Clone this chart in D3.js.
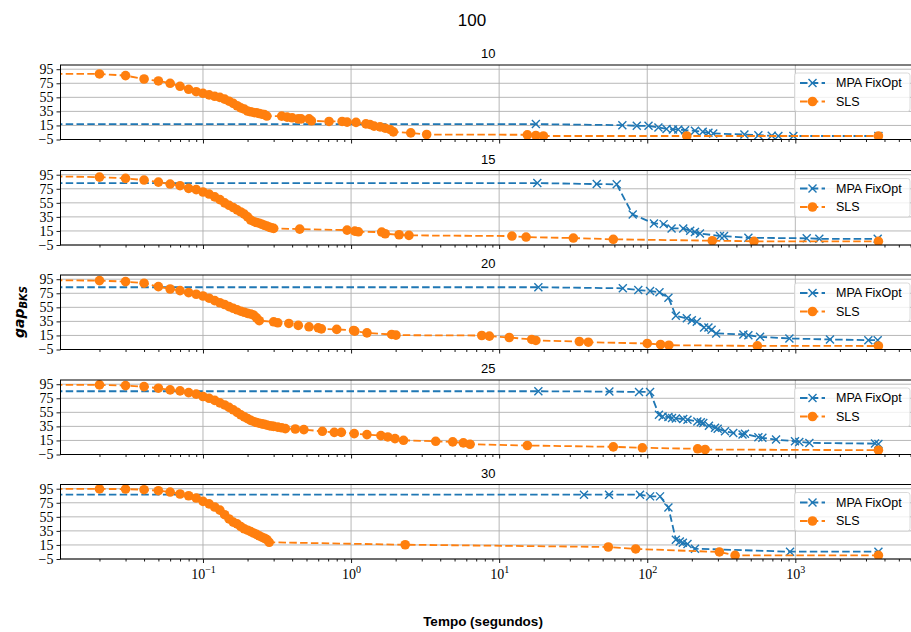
<!DOCTYPE html>
<html>
<head>
<meta charset="utf-8">
<script src="https://cdn.jsdelivr.net/npm/d3@7"></script>
<style>
    body { margin: 0; background: #fff; }
    svg { display: block; }
    .tick line { stroke: #000; stroke-width: 0.9; }
    .domain { display: none; }
</style>
</head>
<body>
<svg id="chart"></svg>
<script>
// ---- data (time in seconds, gap to BKS in %) ----
const figTitle = "100";
const panelNames = ["10", "15", "20", "25", "30"];
const seriesNames = ["MPA FixOpt", "SLS"];
const yTicks = [-5, 15, 35, 55, 75, 95];
const xTicks = [0.1, 1, 10, 100, 1000];
const xTickExp = ["\u22121", "0", "1", "2", "3"];

const mpaTime10 = [0.01, 17.7, 67.9, 85, 102, 119, 135, 149, 162, 180, 210, 237, 259, 279, 453, 563, 693, 768, 970, 3640];
const mpaGap10 = [16.9, 16.9, 15.4, 14.4, 14.4, 12.1, 10.1, 9.3, 9.3, 8.3, 7.3, 5.9, 4.5, 3.6, 2.1, 1.1, 0.4, 0, 0, 0];
const slsTime10 = [0.01, 0.02, 0.03, 0.04, 0.05, 0.06, 0.07, 0.08, 0.09, 0.10, 0.11, 0.12, 0.13, 0.14, 0.15, 0.16, 0.17, 0.18,
    0.19, 0.20, 0.21, 0.22, 0.23, 0.24, 0.25, 0.26, 0.27, 0.34, 0.37, 0.40, 0.44, 0.46, 0.52, 0.54, 0.71, 0.87, 0.94, 1.08,
    1.26, 1.34, 1.43, 1.57, 1.70, 1.83, 1.93, 2.53, 3.24, 15.5, 17.7, 19.9, 185, 3640];
const slsGap10 = [88.3, 88.3, 85.9, 81.1, 78.3, 75, 70.7, 66.4, 63, 60.7, 58.5, 56.5, 55, 52.5, 49.5, 46.4, 43, 40,
    38.3, 35.5, 34.4, 33.5, 33, 32, 31, 30.5, 28.4, 28.3, 26.9, 25.9, 24.4, 24.4, 24.4, 21.6, 20.7, 20.7, 19.7, 19.3,
    17.3, 16.4, 14, 13, 11.1, 9.3, 5.9, 4.4, 2.1, 1.7, 0.7, 0, 0, 0];

const mpaTime15 = [0.01, 18.1, 45.6, 62.2, 79.8, 111, 129, 146, 175, 195, 210, 227, 310, 330, 482, 1194, 1452, 3600];
const mpaGap15 = [83.1, 83.1, 81.7, 81.3, 38.4, 25.7, 24.7, 18.6, 18.6, 15.2, 13.4, 11.5, 7.7, 7.7, 5.3, 4.5, 3.8, 3.8];
const slsTime15 = [0.01, 0.02, 0.03, 0.04, 0.05, 0.06, 0.07, 0.08, 0.09, 0.10, 0.11, 0.12, 0.13, 0.14, 0.15, 0.16, 0.17,
    0.18, 0.19, 0.20, 0.21, 0.22, 0.23, 0.24, 0.25, 0.26, 0.27, 0.28, 0.29, 0.30, 0.45, 0.94, 1.06, 1.12, 1.61, 1.70,
    2.11, 2.46, 12.2, 15.2, 31.7, 59, 275, 526, 3640];
const slsGap15 = [92.6, 91.6, 89.8, 87.4, 84.5, 81.7, 79.4, 75.6, 73.8, 70.4, 67.5, 63.5, 59.5, 55, 51.5, 48.3, 45,
    42, 39, 35, 30.5, 28.5, 27, 26, 24.5, 23, 21.9, 20.5, 19.5, 18.6, 17.6, 16.2, 14.8, 13.8, 13.4, 11,
    9.6, 8.7, 7.7, 6.3, 4.9, 3.1, 1.1, 0.3, 0.3];

const mpaTime20 = [0.01, 18.4, 68.4, 87, 104.5, 121, 139, 156, 185, 200, 216, 242, 259, 272, 292, 446, 482, 578, 912, 1714, 3112, 3600];
const mpaGap20 = [83.6, 83.6, 82.1, 79.6, 78.3, 76.4, 68.7, 43, 39.3, 36.5, 34.4, 26.4, 26.4, 23, 17.9, 16.4, 15.4, 13, 10.7, 9.3, 8.3, 8.3];
const slsTime20 = [0.01, 0.02, 0.03, 0.04, 0.05, 0.06, 0.07, 0.08, 0.09, 0.10, 0.11, 0.12, 0.13, 0.14, 0.15, 0.16, 0.17,
    0.18, 0.19, 0.20, 0.21, 0.22, 0.23, 0.24, 0.30, 0.32, 0.38, 0.44, 0.52, 0.60, 0.63, 0.80, 1.04, 1.06, 1.28, 1.88,
    2.01, 7.63, 8.59, 11.7, 16.6, 17.7, 34.8, 40, 100, 123, 140, 554, 3640];
const slsGap20 = [93.6, 93, 91.6, 89.3, 84.4, 81.1, 78.7, 75.9, 73.6, 71.1, 68, 64.5, 61.5, 59, 56, 53.6, 51.5,
    49.5, 48, 46.4, 45.5, 44, 40, 36, 34.4, 33, 32.1, 29.3, 27.3, 25.9, 24.4, 23.6, 22.1, 21.1, 18.7, 16.4,
    15.4, 14.9, 14, 12.1, 9.3, 7.9, 6.4, 5.4, 3.6, 2.1, 1.1, 0.1, 0];

const mpaTime25 = [0.01, 18.4, 55.5, 88, 104.5, 120, 127, 139, 147, 156, 175, 187, 218, 230, 239, 261, 287, 299, 335,
    381, 440, 457, 563, 599, 741, 995, 1064, 1244, 3453, 3640];
const mpaGap25 = [85, 85, 84.5, 84, 84, 51.6, 49, 48.3, 47, 46.3, 45.5, 44.5, 42.1, 41, 39.8, 36, 33.2, 31.8, 28,
    25.7, 23.5, 24.5, 19.5, 18.7, 16.2, 13.8, 12.9, 11.5, 10.5, 10];
const slsTime25 = [0.01, 0.02, 0.03, 0.04, 0.05, 0.06, 0.07, 0.08, 0.09, 0.10, 0.11, 0.12, 0.13, 0.14, 0.15, 0.16, 0.17,
    0.18, 0.19, 0.20, 0.21, 0.22, 0.23, 0.24, 0.25, 0.26, 0.27, 0.28, 0.29, 0.30, 0.32, 0.34, 0.36, 0.42, 0.48, 0.64,
    0.77, 0.86, 1.05, 1.28, 1.59, 1.77, 1.98, 2.26, 3.73, 4.86, 5.73, 6.36, 15.5, 59, 92.7, 219, 246, 3640];
const slsGap25 = [94, 94, 93, 91.6, 89.3, 86.9, 85.5, 83.1, 80.9, 77.5, 75, 72, 68.5, 65.5, 62, 58.6, 55,
    51.5, 48.5, 46, 43.5, 42, 40.5, 39.5, 38.6, 38, 37, 36, 35.5, 35, 34, 33, 31.8, 31.3, 30.4, 28,
    26.5, 26.5, 24.7, 23.3, 21.9, 20, 17.6, 15.2, 13.8, 12.9, 11.5, 9.6, 7.8, 5.9, 4.5, 3.1, 2.1, 1.1];

const mpaTime30 = [0.01, 37.4, 55.2, 89.4, 104.5, 122, 139, 156, 166, 174, 187, 210, 921, 3640];
const mpaGap30 = [86.5, 86.5, 86.5, 86.5, 84.1, 84.1, 68.4, 22.5, 20, 18, 16.3, 9.7, 5.4, 5.4];
const slsTime30 = [0.01, 0.02, 0.03, 0.04, 0.05, 0.06, 0.07, 0.08, 0.09, 0.10, 0.11, 0.12, 0.13, 0.14, 0.15, 0.16, 0.17,
    0.18, 0.19, 0.20, 0.21, 0.22, 0.23, 0.24, 0.25, 0.26, 0.27, 0.28, 2.32, 54.6, 83.6, 307, 392, 3640];
const slsGap30 = [94.7, 94.7, 94.5, 93.6, 92.2, 90.3, 87.5, 85, 81.8, 77, 73.5, 69, 64.5, 58, 52, 47.5, 45,
    41, 38, 36, 34, 32, 30, 28, 26, 24.5, 22.6, 18.8, 15.3, 12.1, 9.3, 5, 0.1, 0.1];

const mpaTimes = [mpaTime10, mpaTime15, mpaTime20, mpaTime25, mpaTime30];
const mpaGaps = [mpaGap10, mpaGap15, mpaGap20, mpaGap25, mpaGap30];
const slsTimes = [slsTime10, slsTime15, slsTime20, slsTime25, slsTime30];
const slsGaps = [slsGap10, slsGap15, slsGap20, slsGap25, slsGap30];

const colors = ["#1f77b4", "#ff7f0e"];
const dash = "7.5,3.3";
const crossPath = "M-4,-4L4,4M-4,4L4,-4";

class PanelChart {
    constructor(_config, _data) {
        this.config = {
            parent: _config.parent,
            index: _config.index,
            top: _config.top,
            left: 60.5,
            right: 916,
            height: 74.5,
            showXLabels: _config.showXLabels
        };
        this.data = _data;
        this.initVis();
    }

    initVis() {
        let vis = this;
        vis.width = vis.config.right - vis.config.left;

        vis.xScale = d3.scaleLog()
            .domain([0.01091, 6530])
            .range([0, vis.width]);
        vis.yScale = d3.scaleLinear()
            .domain([-5, 101])
            .range([vis.config.height, 0]);

        vis.chart = vis.config.parent.append("g")
            .attr("transform", `translate(${vis.config.left},${vis.config.top})`);

        vis.clipId = "clip" + vis.config.index;
        vis.chart.append("clipPath").attr("id", vis.clipId)
            .append("rect")
            .attr("width", vis.width)
            .attr("height", vis.config.height);

        vis.renderVis();
    }

    renderVis() {
        let vis = this;
        const h = vis.config.height;

        // grid
        vis.chart.append("g").selectAll("line")
            .data(yTicks)
            .join("line")
            .attr("x1", 0).attr("x2", vis.width)
            .attr("y1", d => vis.yScale(d)).attr("y2", d => vis.yScale(d))
            .attr("stroke", "#b0b0b0").attr("stroke-width", 0.9);
        vis.chart.append("g").selectAll("line")
            .data(xTicks)
            .join("line")
            .attr("x1", d => vis.xScale(d)).attr("x2", d => vis.xScale(d))
            .attr("y1", 0).attr("y2", h)
            .attr("stroke", "#b0b0b0").attr("stroke-width", 0.9);

        // series
        const plot = vis.chart.append("g").attr("clip-path", `url(#${vis.clipId})`);
        const line = d3.line()
            .x(d => vis.xScale(d.t))
            .y(d => vis.yScale(d.g));

        vis.data.forEach((s, i) => {
            plot.append("path")
                .datum(s.points)
                .attr("d", line)
                .attr("fill", "none")
                .attr("stroke", colors[i])
                .attr("stroke-width", 1.8)
                .attr("stroke-dasharray", dash);
            if (i === 0) {
                plot.append("g").selectAll("path")
                    .data(s.points)
                    .join("path")
                    .attr("transform", d => `translate(${vis.xScale(d.t)},${vis.yScale(d.g)})`)
                    .attr("d", crossPath)
                    .attr("stroke", colors[i])
                    .attr("stroke-width", 1.4)
                    .attr("fill", "none");
            } else {
                plot.append("g").selectAll("circle")
                    .data(s.points)
                    .join("circle")
                    .attr("cx", d => vis.xScale(d.t))
                    .attr("cy", d => vis.yScale(d.g))
                    .attr("r", 4.8)
                    .attr("fill", colors[i]);
            }
        });

        // axes
        const minor = [];
        for (let e = -2; e <= 3; e++) {
            for (let k = 2; k <= 9; k++) {
                const v = k * Math.pow(10, e);
                if (v > 0.01091 && v < 6530) minor.push(v);
            }
        }
        vis.chart.append("g")
            .attr("transform", `translate(0,${h})`)
            .call(d3.axisBottom(vis.xScale).tickValues(minor).tickSize(2.5).tickFormat(""));
        const xAxisG = vis.chart.append("g")
            .attr("transform", `translate(0,${h})`)
            .call(d3.axisBottom(vis.xScale).tickValues(xTicks).tickSize(4).tickFormat(""));

        if (vis.config.showXLabels) {
            xAxisG.selectAll(".tick").each(function (d, i) {
                const t = d3.select(this).append("text")
                    .attr("y", 20)
                    .attr("fill", "#000")
                    .attr("text-anchor", "middle")
                    .style("font-family", "'Liberation Serif', serif")
                    .style("font-size", "14px");
                t.append("tspan").text("10");
                t.append("tspan").attr("dy", -6).style("font-size", "10px").text(xTickExp[i]);
            });
        }

        vis.chart.append("g")
            .call(d3.axisLeft(vis.yScale).tickValues(yTicks).tickSize(4).tickPadding(3)
                .tickFormat(d => d < 0 ? "\u2212" + Math.abs(d) : d))
            .selectAll("text")
            .style("font-family", "'Liberation Serif', serif")
            .style("font-size", "14px")
            .attr("fill", "#000");

        // spines
        vis.chart.append("rect")
            .attr("width", vis.width)
            .attr("height", h)
            .attr("fill", "none")
            .attr("stroke", "#000")
            .attr("stroke-width", 1);

        // panel title
        vis.chart.append("text")
            .attr("x", vis.width / 2)
            .attr("y", -7)
            .attr("text-anchor", "middle")
            .style("font-family", "'Liberation Sans', sans-serif")
            .style("font-size", "13px")
            .text(panelNames[vis.config.index]);

        // legend
        const lg = vis.chart.append("g")
            .attr("transform", `translate(${vis.width - 121.5},8)`);
        lg.append("rect")
            .attr("width", 115.5).attr("height", 38.5)
            .attr("rx", 2.5)
            .attr("fill", "#fff").attr("fill-opacity", 0.8)
            .attr("stroke", "#d0d0d0").attr("stroke-width", 0.8);
        seriesNames.forEach((name, i) => {
            const yy = 10 + i * 18.5;
            lg.append("line")
                .attr("x1", 5.5).attr("x2", 30.5)
                .attr("y1", yy).attr("y2", yy)
                .attr("stroke", colors[i]).attr("stroke-width", 1.8)
                .attr("stroke-dasharray", dash);
            if (i === 0) {
                lg.append("path")
                    .attr("transform", `translate(18,${yy})`)
                    .attr("d", crossPath)
                    .attr("stroke", colors[i]).attr("stroke-width", 1.4);
            } else {
                lg.append("circle").attr("cx", 18).attr("cy", yy).attr("r", 4.8).attr("fill", colors[i]);
            }
            lg.append("text")
                .attr("x", 41.5).attr("y", yy)
                .attr("dy", "0.35em")
                .style("font-family", "'Liberation Sans', sans-serif")
                .style("font-size", "12.5px")
                .text(name);
        });
    }
}

const svg = d3.select("#chart").attr("width", 911).attr("height", 632);
svg.append("rect").attr("width", 911).attr("height", 632).attr("fill", "#fff");

const tops = [65, 170.5, 275, 380, 484.5];
panelNames.forEach((name, i) => {
    const series = [
        { points: mpaTimes[i].map((t, j) => ({ t: t, g: mpaGaps[i][j] })) },
        { points: slsTimes[i].map((t, j) => ({ t: t, g: slsGaps[i][j] })) }
    ];
    new PanelChart({ parent: svg, index: i, top: tops[i], showXLabels: i === 4 }, series);
});

svg.append("text")
    .attr("x", 472).attr("y", 26)
    .attr("text-anchor", "middle")
    .style("font-family", "'Liberation Sans', sans-serif")
    .style("font-size", "17px")
    .text(figTitle);

svg.append("text")
    .attr("x", 483).attr("y", 626)
    .attr("text-anchor", "middle")
    .style("font-family", "'Liberation Sans', sans-serif")
    .style("font-size", "13.5px")
    .style("font-weight", "bold")
    .text("Tempo (segundos)");

const yl = svg.append("text")
    .attr("transform", "translate(24,312) rotate(-90)")
    .attr("text-anchor", "middle")
    .style("font-family", "'DejaVu Sans', sans-serif")
    .style("font-style", "italic")
    .style("font-weight", "bold")
    .style("font-size", "14px");
yl.append("tspan").text("gap");
yl.append("tspan").attr("dy", 3).style("font-size", "10px").text("BKS");
</script>
</body>
</html>
